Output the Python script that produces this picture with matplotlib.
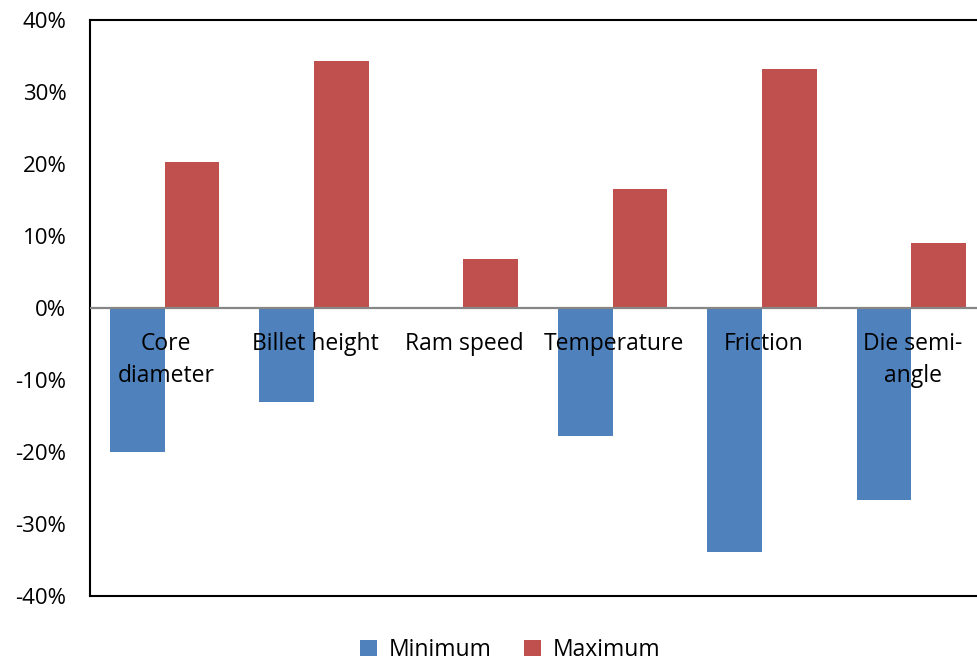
import numpy as np
import matplotlib.pyplot as plt
from matplotlib.ticker import PercentFormatter

categories = ["Core\ndiameter", "Billet height", "Ram speed", "Temperature", "Friction", "Die semi-\nangle"]
minimum = [-20.0, -13.1, 0.0, -17.8, -33.9, -26.7]
maximum = [20.3, 34.3, 6.8, 16.5, 33.2, 9.0]

plt.rcParams["font.family"] = ["Open Sans", "DejaVu Sans"]
plt.rcParams["axes.unicode_minus"] = False

fig = plt.figure(figsize=(9.77, 6.62), dpi=100)
ax = fig.add_axes([90 / 977, 66 / 662, 896 / 977, 576 / 662])

x = np.arange(len(categories))
w = 0.365
ax.bar(x - w / 2, minimum, w, color="#4F81BD", label="Minimum", zorder=2)
ax.bar(x + w / 2, maximum, w, color="#C0504D", label="Maximum", zorder=2)
ax.axhline(0, color="#868686", lw=1.6, zorder=3)

ax.set_xlim(-0.5, len(categories) - 0.5)
ax.set_ylim(-40, 40)
ax.set_yticks(np.arange(-40, 41, 10))
ax.yaxis.set_major_formatter(PercentFormatter(decimals=0))
ax.tick_params(axis="y", length=0, pad=17, labelsize=16)
ax.set_xticks([])
for s in ax.spines.values():
    s.set_linewidth(1.5)

# category names sit just under the zero line, like Excel's "next to axis"
for i, name in enumerate(categories):
    ax.annotate(name, (i, 0), xytext=(1, -17), textcoords="offset points",
                ha="center", va="top", fontsize=16.5, linespacing=1.45, zorder=4)

fig.legend(loc="center", bbox_to_anchor=(510 / 977, 1 - 650 / 662), ncol=2,
           frameon=False, fontsize=16.5, handlelength=0.75, handleheight=0.75,
           handletextpad=0.5, columnspacing=1.4)

fig.savefig("out.png", dpi=100)
